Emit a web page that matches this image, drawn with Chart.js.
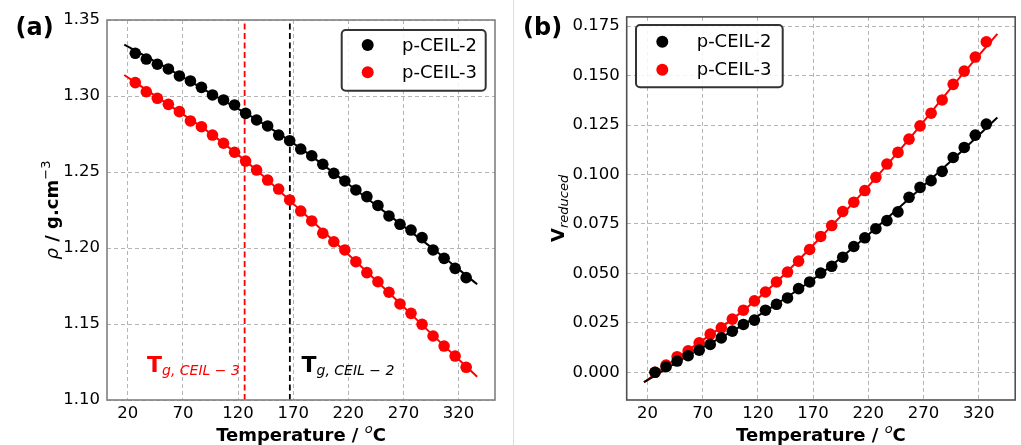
<!DOCTYPE html>
<html>
<head>
<meta charset="utf-8">
<script src="https://cdn.jsdelivr.net/npm/chart.js@4"></script>
<style>
  body { margin: 0; background: #fff; }
  #wrap { position: relative; width: 1021px; height: 445px; overflow: hidden; }
  #c1 { position: absolute; left: 0; top: 0; }
  #c2 { position: absolute; left: 515px; top: 0; }
  #sep { position: absolute; left: 513px; top: 0; width: 1px; height: 445px; background: #dcdcdc; }
</style>
</head>
<body>
<div id="wrap">
  <canvas id="c1" width="510" height="445" style="width:510px;height:445px"></canvas>
  <div id="sep"></div>
  <canvas id="c2" width="506" height="445" style="width:506px;height:445px"></canvas>
</div>
<script>
// series names and colours
const seriesNames = ['p-CEIL-2', 'p-CEIL-3'];
const seriesColors = ['#000000', '#ff0000'];

// temperatures of the points (300 K ... 600 K, in °C)
const temperatureC = [26.85, 36.85, 46.85, 56.85, 66.85, 76.85, 86.85, 96.85, 106.85, 116.85,
  126.85, 136.85, 146.85, 156.85, 166.85, 176.85, 186.85, 196.85, 206.85, 216.85,
  226.85, 236.85, 246.85, 256.85, 266.85, 276.85, 286.85, 296.85, 306.85, 316.85, 326.85];

// (a) density, g/cm3
const densityCeil2 = [1.3281, 1.3243, 1.3209, 1.3178, 1.3132, 1.3099, 1.3057, 1.3007, 1.2974, 1.2941,
  1.2886, 1.2842, 1.2803, 1.2743, 1.2706, 1.2651, 1.2607, 1.2551, 1.2491, 1.2441,
  1.2382, 1.2338, 1.2280, 1.2211, 1.2156, 1.2118, 1.2068, 1.1987, 1.1932, 1.1866, 1.1805];
const densityCeil3 = [1.3088, 1.3028, 1.2985, 1.2945, 1.2897, 1.2836, 1.2798, 1.2743, 1.2689, 1.2630,
  1.2572, 1.2513, 1.2447, 1.2388, 1.2316, 1.2243, 1.2178, 1.2097, 1.2041, 1.1987,
  1.1910, 1.1838, 1.1778, 1.1709, 1.1632, 1.1570, 1.1498, 1.1421, 1.1355, 1.1289, 1.1215];

// (b) reduced volume
const vredCeil2 = [0.0000, 0.0028, 0.0057, 0.0084, 0.0112, 0.0141, 0.0174, 0.0208, 0.0242, 0.0264,
  0.0314, 0.0344, 0.0376, 0.0423, 0.0457, 0.0502, 0.0536, 0.0582, 0.0636, 0.0680,
  0.0726, 0.0767, 0.0811, 0.0885, 0.0935, 0.0969, 0.1016, 0.1086, 0.1137, 0.1199, 0.1255];
const vredCeil3 = [0.0000, 0.0037, 0.0079, 0.0109, 0.0149, 0.0193, 0.0225, 0.0269, 0.0314, 0.0361,
  0.0406, 0.0457, 0.0507, 0.0562, 0.0621, 0.0687, 0.0742, 0.0813, 0.0860, 0.0919,
  0.0986, 0.1053, 0.1112, 0.1179, 0.1246, 0.1310, 0.1377, 0.1456, 0.1523, 0.1594, 0.1671];

// fitted curves
const fitTemps = [16.85, 56.85, 96.85, 136.85, 176.85, 216.85, 256.85, 296.85, 336.85];
const fitDensityCeil2 = [1.3338, 1.3178, 1.3010, 1.2844, 1.2655, 1.2438, 1.2216, 1.1995, 1.1761];
const fitDensityCeil3 = [1.3138, 1.2943, 1.2744, 1.2511, 1.2246, 1.1979, 1.1706, 1.1425, 1.1153];
const fitVredCeil2 = [-0.0050, 0.0084, 0.0208, 0.0345, 0.0498, 0.0681, 0.0878, 0.1078, 0.1288];
const fitVredCeil3 = [-0.0050, 0.0112, 0.0269, 0.0457, 0.0683, 0.0921, 0.1179, 0.1451, 0.1711];

// glass transition temperatures, °C
const tgCeil2 = 167;
const tgCeil3 = 126;

// ticks
const tempTicks = [20, 70, 120, 170, 220, 270, 320];
const densityTicks = [1.10, 1.15, 1.20, 1.25, 1.30, 1.35];
const vredTicks = [0.000, 0.025, 0.050, 0.075, 0.100, 0.125, 0.150, 0.175];

const FONT = 'DejaVu Sans';
const pts = (xs, ys) => xs.map((x, i) => ({ x: x, y: ys[i] }));

function drawParts(ctx, x, y, parts, align) {
  let w = 0;
  parts.forEach(p => { ctx.font = p.font; p.w = ctx.measureText(p.text).width; w += p.w; });
  let cx = align === 'center' ? x - w / 2 : x;
  parts.forEach(p => {
    ctx.font = p.font;
    ctx.fillStyle = p.color || '#000';
    ctx.fillText(p.text, cx, y + (p.dy || 0));
    cx += p.w;
  });
}

// frame, labels, annotations and legend
const decoPlugin = {
  id: 'deco',
  afterDraw(chart, args, o) {
    const ctx = chart.ctx;
    const a = chart.chartArea;
    ctx.save();
    ctx.textBaseline = 'alphabetic';
    ctx.strokeStyle = o.frameColor;
    ctx.lineWidth = 1.6;
    ctx.strokeRect(a.left, a.top, a.right - a.left, a.bottom - a.top);

    // panel label
    drawParts(ctx, o.panel.x, o.panel.y, [{ text: o.panel.text, font: 'bold 24px ' + FONT }]);

    // x label
    drawParts(ctx, (a.left + a.right) / 2, 441, [
      { text: 'Temperature / ', font: 'bold 18px ' + FONT },
      { text: 'o', font: 'italic 13px ' + FONT, dy: -8 },
      { text: 'C', font: 'bold 18px ' + FONT }
    ], 'center');

    // y label (rotated)
    ctx.save();
    ctx.translate(o.ylabelX, (a.top + a.bottom) / 2);
    ctx.rotate(-Math.PI / 2);
    drawParts(ctx, 0, 0, o.ylabel, 'center');
    ctx.restore();

    // annotations
    (o.notes || []).forEach(n => drawParts(ctx, n.x, n.y, n.parts));

    // legend
    const L = o.legend;
    ctx.beginPath();
    ctx.roundRect(L.x, L.y, L.w, L.h, 4);
    ctx.fillStyle = 'rgba(255,255,255,0.85)';
    ctx.fill();
    ctx.lineWidth = 2;
    ctx.strokeStyle = '#333';
    ctx.stroke();
    seriesNames.forEach((name, i) => {
      const yy = L.y + L.rowY[i];
      ctx.beginPath();
      ctx.arc(L.markX, yy, 6, 0, Math.PI * 2);
      ctx.fillStyle = seriesColors[i];
      ctx.fill();
      ctx.fillStyle = '#000';
      ctx.font = '18px ' + FONT;
      ctx.textBaseline = 'middle';
      ctx.fillText(name, L.textX, yy + 1);
      ctx.textBaseline = 'alphabetic';
    });
    ctx.restore();
  }
};

function makeChart(canvas, cfg) {
  const datasets = [];
  // points on top
  seriesNames.forEach((name, i) => {
    datasets.push({
      label: name, data: pts(temperatureC, cfg.values[i]),
      backgroundColor: seriesColors[i], borderColor: seriesColors[i],
      pointRadius: 5.8, pointBorderWidth: 0, showLine: false
    });
  });
  (cfg.vlines || []).forEach(v => {
    datasets.push({
      data: [{ x: v.x, y: cfg.yMin }, { x: v.x, y: cfg.yMax }],
      borderColor: v.color, borderWidth: 1.8, borderDash: [6, 3.5],
      pointRadius: 0, showLine: true
    });
  });
  seriesNames.forEach((name, i) => {
    datasets.push({
      data: pts(fitTemps, cfg.fits[i]),
      borderColor: seriesColors[i], borderWidth: 2, pointRadius: 0,
      showLine: true, tension: 0.4, cubicInterpolationMode: 'monotone'
    });
  });

  return new Chart(canvas.getContext('2d'), {
    type: 'scatter',
    data: { datasets: datasets },
    plugins: [decoPlugin],
    options: {
      responsive: false,
      animation: false,
      devicePixelRatio: 1,
      layout: { padding: cfg.padding },
      plugins: {
        legend: { display: false },
        tooltip: { enabled: false },
        deco: cfg.deco
      },
      scales: {
        x: {
          type: 'linear', min: 1.2, max: 353,
          afterBuildTicks: s => { s.ticks = tempTicks.map(v => ({ value: v })); },
          afterFit: s => { s.height = 45; },
          ticks: { font: { family: FONT, size: 16.5 }, color: '#000', padding: 4, maxRotation: 0, autoSkip: false,
            callback: v => String(v) },
          grid: { color: '#b4b4b4', lineWidth: 1, drawTicks: false },
          border: { display: false, dash: [4, 3] }
        },
        y: {
          type: 'linear', min: cfg.yMin, max: cfg.yMax,
          afterBuildTicks: s => { s.ticks = cfg.yTicks.map(v => ({ value: v })); },
          afterFit: s => { s.width = cfg.yWidth; },
          ticks: { font: { family: FONT, size: 16.5 }, color: '#000', padding: 7, autoSkip: false,
            callback: v => v.toFixed(cfg.yDigits) },
          grid: { color: '#b4b4b4', lineWidth: 1, drawTicks: false },
          border: { display: false, dash: [4, 3] }
        }
      }
    }
  });
}

makeChart(document.getElementById('c1'), {
  values: [densityCeil2, densityCeil3],
  fits: [fitDensityCeil2, fitDensityCeil3],
  vlines: [{ x: tgCeil3, color: '#ff0000' }, { x: tgCeil2, color: '#000000' }],
  yMin: 1.10, yMax: 1.35, yTicks: densityTicks, yDigits: 2, yWidth: 107,
  padding: { top: 20, right: 15, left: 0, bottom: 0 },
  deco: {
    frameColor: '#808080',
    panel: { text: '(a)', x: 15.5, y: 35 },
    ylabelX: 58,
    ylabel: [
      { text: 'ρ', font: 'italic 18px ' + FONT },
      { text: ' / g.cm', font: 'bold 18px ' + FONT },
      { text: '−3', font: '13px ' + FONT, dy: -8 }
    ],
    notes: [
      { x: 147, y: 372, parts: [
        { text: 'T', font: 'bold 22px ' + FONT, color: '#ff0000' },
        { text: 'g, CEIL − 3', font: 'italic 14px ' + FONT, color: '#ff0000', dy: 3 }] },
      { x: 301.5, y: 372, parts: [
        { text: 'T', font: 'bold 22px ' + FONT, color: '#000' },
        { text: 'g, CEIL − 2', font: 'italic 14px ' + FONT, color: '#000', dy: 3 }] }
    ],
    legend: { x: 341.7, y: 30, w: 144, h: 60.7, rowY: [15, 42.3], markX: 367.7, textX: 402 }
  }
});

makeChart(document.getElementById('c2'), {
  values: [vredCeil2, vredCeil3],
  fits: [fitVredCeil2, fitVredCeil3],
  yMin: -0.0140, yMax: 0.1797, yTicks: vredTicks, yDigits: 3, yWidth: 111.7,
  padding: { top: 15.7, right: 1.7, left: 0, bottom: 0 },
  deco: {
    frameColor: '#505050',
    panel: { text: '(b)', x: 8, y: 35 },
    ylabelX: 48.5,
    ylabel: [
      { text: 'V', font: 'bold 18px ' + FONT },
      { text: 'reduced', font: 'italic 13px ' + FONT, dy: 4 }
    ],
    legend: { x: 121, y: 25, w: 146.7, h: 62.3, rowY: [16.7, 44.7], markX: 147.3, textX: 181.7 }
  }
});
</script>
</body>
</html>
